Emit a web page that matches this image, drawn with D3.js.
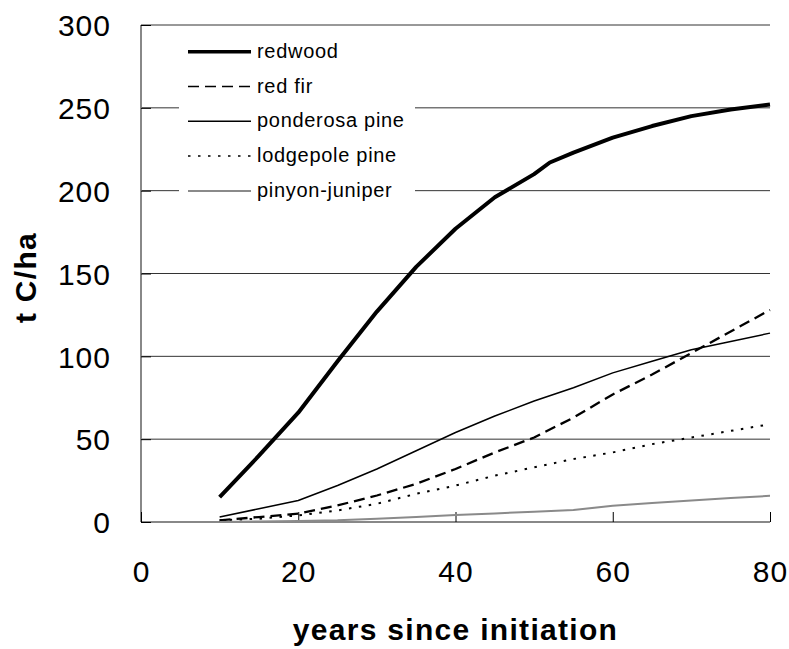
<!DOCTYPE html>
<html>
<head>
<meta charset="utf-8">
<script src="https://cdn.jsdelivr.net/npm/d3@7"></script>
<style>
  html, body { margin: 0; padding: 0; background: #fff; }
  svg { display: block; font-family: Arial, "Liberation Sans", sans-serif; }
</style>
</head>
<body>
<svg id="chart" width="789" height="649"></svg>
<script>
// ---- data ----
const years = [10, 15, 20, 25, 30, 35, 40, 45, 50, 55, 60, 65, 70, 75, 80];
const redwoodYears = [10, 15, 20, 25, 30, 35, 40, 45, 50, 52, 55, 60, 65, 70, 75, 80];
const redwood = [15, 40, 66, 97, 127, 154, 177, 196, 210, 217, 223, 232, 239, 245, 249, 252];
const redFir = [1, 3, 5, 10, 16, 23, 32, 42, 51, 63, 77, 89, 102, 115, 128];
const ponderosaPine = [3, 8, 13, 22, 32, 43, 54, 64, 73, 81, 90, 97, 104, 109, 114];
const lodgepolePine = [1, 2, 4, 7, 11, 17, 22, 28, 33, 38, 42, 47, 51, 55, 59];
const pinyonJuniper = [0, 0.3, 0.6, 1, 2, 3, 4.2, 5.2, 6.2, 7.2, 9.8, 11.5, 13, 14.5, 15.8];
const seriesNames = ["redwood", "red fir", "ponderosa pine", "lodgepole pine", "pinyon-juniper"];
const xTicks = [0, 20, 40, 60, 80];
const yTicks = [0, 50, 100, 150, 200, 250, 300];
const xTitle = "years since initiation";
const yTitle = "t C/ha";

// ---- styles ----
const styles = {
  "redwood":        { stroke: "#000", width: 4,   dash: null,   lwidth: 3.5 },
  "red fir":        { stroke: "#000", width: 2.3, dash: "11,6", lwidth: 1.5 },
  "ponderosa pine": { stroke: "#000", width: 1.5, dash: null,   lwidth: 1.5 },
  "lodgepole pine": { stroke: "#000", width: 2,   dash: "2.5,7.5", lwidth: 1.5 },
  "pinyon-juniper": { stroke: "#8a8a8a", width: 2, dash: null,  lwidth: 2 }
};

const series = [
  { name: "redwood", xs: redwoodYears, ys: redwood },
  { name: "red fir", xs: years, ys: redFir },
  { name: "ponderosa pine", xs: years, ys: ponderosaPine },
  { name: "lodgepole pine", xs: years, ys: lodgepolePine },
  { name: "pinyon-juniper", xs: years, ys: pinyonJuniper }
];

const svg = d3.select("#chart");
const pLeft = 141, pRight = 770, pTop = 25, pBottom = 522;
const x = d3.scaleLinear().domain([0, 80]).range([pLeft, pRight]);
const y = d3.scaleLinear().domain([0, 300]).range([pBottom, pTop]);

// gridlines
svg.append("g").selectAll("line").data(yTicks.filter(d => d > 0)).join("line")
  .attr("x1", pLeft).attr("x2", pRight)
  .attr("y1", d => y(d)).attr("y2", d => y(d))
  .attr("stroke", "#333").attr("stroke-width", 1);

// axis lines (gray)
svg.append("line").attr("x1", pLeft).attr("x2", pLeft).attr("y1", pTop).attr("y2", pBottom)
  .attr("stroke", "#888").attr("stroke-width", 2);
svg.append("line").attr("x1", pLeft).attr("x2", pRight).attr("y1", pBottom).attr("y2", pBottom)
  .attr("stroke", "#888").attr("stroke-width", 2);

// x axis (ticks inward, labels below)
const xAxis = svg.append("g").attr("transform", `translate(0,${pBottom})`)
  .call(d3.axisBottom(x).tickValues(xTicks).tickSize(-10).tickPadding(0).tickFormat(d3.format("d")));
xAxis.select(".domain").remove();
xAxis.selectAll(".tick line").attr("stroke", "#000").attr("stroke-width", 1);
xAxis.selectAll(".tick text")
  .attr("y", 60).attr("dy", null)
  .attr("font-size", 30).attr("letter-spacing", "1px")
  .attr("font-family", "Arial, 'Liberation Sans', sans-serif")
  .attr("fill", "#000");

// y axis (ticks inward, labels left)
const yAxis = svg.append("g").attr("transform", `translate(${pLeft},0)`)
  .call(d3.axisLeft(y).tickValues(yTicks).tickSize(-10).tickPadding(0).tickFormat(d3.format("d")));
yAxis.select(".domain").remove();
yAxis.selectAll(".tick line").attr("stroke", "#000").attr("stroke-width", 1);
yAxis.selectAll(".tick text")
  .attr("x", -30).attr("dy", "0.36em")
  .attr("font-size", 30).attr("letter-spacing", "1px")
  .attr("font-family", "Arial, 'Liberation Sans', sans-serif")
  .attr("fill", "#000");

// data lines
const line = d3.line().x(d => x(d[0])).y(d => y(d[1]));
svg.append("g").selectAll("path").data(series).join("path")
  .attr("d", s => line(s.xs.map((v, i) => [v, s.ys[i]])))
  .attr("fill", "none")
  .attr("stroke", s => styles[s.name].stroke)
  .attr("stroke-width", s => styles[s.name].width)
  .attr("stroke-dasharray", s => styles[s.name].dash)
  .attr("stroke-linejoin", "round");

// legend
const lg = svg.append("g");
lg.append("rect").attr("x", 179).attr("y", 33).attr("width", 236).attr("height", 172).attr("fill", "#fff");
const rowY = i => 51.7 + i * 34.8;
seriesNames.forEach((name, i) => {
  const st = styles[name];
  lg.append("line").attr("x1", 188).attr("x2", 251).attr("y1", rowY(i)).attr("y2", rowY(i))
    .attr("stroke", st.stroke).attr("stroke-width", st.lwidth)
    .attr("stroke-dasharray", st.dash);
  lg.append("text").attr("x", 257).attr("y", rowY(i) + 6)
    .attr("font-size", 20).attr("letter-spacing", "0.7px").attr("fill", "#000")
    .text(name);
});

// axis titles
svg.append("text").attr("x", (pLeft + pRight) / 2).attr("y", 640)
  .attr("text-anchor", "middle").attr("font-size", 30).attr("font-weight", "bold")
  .attr("letter-spacing", "1.3px").text(xTitle);
svg.append("text").attr("transform", `translate(36,${(pTop + pBottom) / 2 + 4}) rotate(-90)`)
  .attr("text-anchor", "middle").attr("font-size", 30).attr("font-weight", "bold")
  .attr("letter-spacing", "1.3px").text(yTitle);
</script>
</body>
</html>
